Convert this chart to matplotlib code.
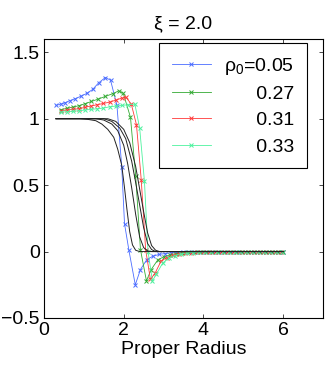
import matplotlib
matplotlib.use("Agg")
import matplotlib.pyplot as plt
from matplotlib.ticker import FuncFormatter

plt.rcParams['font.family'] = ['Liberation Sans', 'DejaVu Sans']
plt.rcParams['mathtext.fontset'] = 'custom'
plt.rcParams['mathtext.rm'] = 'Liberation Sans'
plt.rcParams['mathtext.it'] = 'Liberation Sans'

# coloured curves (with x markers), one per rho_0
rho_labels = ["$\\mathregular{ρ_0}$=0.05", "      0.27", "      0.31", "      0.33"]
rho_colors = ["#4a6cff", "#33aa33", "#ff3838", "#4cf29e"]

x_005 = [0.30, 0.42, 0.53, 0.64, 0.78, 0.93, 1.07, 1.22, 1.37, 1.54, 1.67, 1.83, 1.95,
         2.02, 2.13, 2.29, 2.42, 2.58, 2.73, 2.88, 3.03, 3.18, 3.33, 3.48, 3.63, 3.78,
         3.93, 4.08, 4.23, 4.38, 4.53, 4.68, 4.83, 4.98, 5.13, 5.28, 5.43, 5.58, 5.73,
         5.88, 6.00]
y_005 = [1.10, 1.11, 1.12, 1.135, 1.15, 1.17, 1.19, 1.22, 1.27, 1.31, 1.29, 1.10, 0.64,
         0.21, 0.01, -0.25, -0.135, -0.06, -0.035, -0.022, -0.015, -0.010, -0.007,
         -0.005, -0.003, -0.002, -0.001, 0, 0, 0, 0, 0, 0, 0, 0, 0, 0, 0, 0, 0, 0]

x_027 = [0.42, 0.57, 0.73, 0.88, 1.03, 1.19, 1.36, 1.54, 1.72, 1.88, 1.99, 2.17, 2.30,
         2.42, 2.57, 2.69, 2.86, 3.01, 3.16, 3.31, 3.46, 3.61, 3.76, 3.91, 4.06, 4.21,
         4.36, 4.51, 4.66, 4.81, 4.96, 5.11, 5.26, 5.41, 5.56, 5.71, 5.86, 6.00]
y_027 = [1.068, 1.078, 1.088, 1.098, 1.113, 1.13, 1.148, 1.168, 1.188, 1.21, 1.19, 1.01,
         0.57, 0.015, -0.22, -0.135, -0.06, -0.04, -0.025, -0.015, -0.010, -0.006,
         -0.004, -0.002, -0.001, 0, 0, 0, 0, 0, 0, 0, 0, 0, 0, 0, 0, 0]

x_031 = [0.42, 0.57, 0.72, 0.87, 1.02, 1.17, 1.33, 1.49, 1.65, 1.80, 1.95, 2.06, 2.19,
         2.32, 2.44, 2.55, 2.67, 2.79, 2.94, 3.09, 3.24, 3.39, 3.54, 3.69, 3.84, 3.99,
         4.14, 4.29, 4.44, 4.59, 4.74, 4.89, 5.04, 5.19, 5.34, 5.49, 5.64, 5.79, 5.94]
y_031 = [1.06, 1.065, 1.07, 1.075, 1.085, 1.095, 1.105, 1.115, 1.125, 1.14, 1.155, 1.16,
         1.11, 0.955, 0.54, 0.015, -0.21, -0.16, -0.07, -0.045, -0.028, -0.017, -0.011,
         -0.007, -0.004, -0.002, -0.001, 0, 0, 0, 0, 0, 0, 0, 0, 0, 0, 0, 0]

x_033 = [0.42, 0.57, 0.72, 0.87, 1.02, 1.17, 1.33, 1.49, 1.65, 1.80, 1.95, 2.10, 2.28,
         2.40, 2.52, 2.61, 2.72, 2.82, 2.98, 3.13, 3.28, 3.43, 3.58, 3.73, 3.88, 4.03,
         4.18, 4.33, 4.48, 4.63, 4.78, 4.93, 5.08, 5.23, 5.38, 5.53, 5.68, 5.83, 5.98]
y_033 = [1.05, 1.052, 1.055, 1.06, 1.065, 1.07, 1.075, 1.08, 1.09, 1.095, 1.10, 1.105,
         1.11, 0.93, 0.53, 0.0, -0.22, -0.17, -0.085, -0.05, -0.03, -0.018, -0.011,
         -0.007, -0.004, -0.002, -0.001, 0, 0, 0, 0, 0, 0, 0, 0, 0, 0, 0, 0]

# black step curves, one per rho_0
xb_005 = [0.30, 0.90, 1.10, 1.30, 1.45, 1.60, 1.75, 1.85, 1.95, 2.02, 2.08, 2.15, 2.22,
          2.30, 2.40, 6.00]
yb_005 = [1.0, 1.0, 0.995, 0.985, 0.96, 0.92, 0.86, 0.77, 0.65, 0.48, 0.32, 0.15, 0.05,
          0.01, 0.0, 0.0]
xb_027 = [0.30, 1.30, 1.50, 1.70, 1.85, 2.00, 2.10, 2.20, 2.30, 2.40, 2.50, 2.60, 2.70, 6.00]
yb_027 = [1.0, 1.0, 0.99, 0.96, 0.91, 0.80, 0.66, 0.48, 0.28, 0.11, 0.03, 0.005, 0.0, 0.0]
xb_031 = [0.30, 1.50, 1.70, 1.90, 2.05, 2.20, 2.30, 2.40, 2.50, 2.60, 2.70, 2.80, 6.00]
yb_031 = [1.0, 1.0, 0.98, 0.93, 0.85, 0.68, 0.52, 0.35, 0.18, 0.06, 0.015, 0.0, 0.0]
xb_033 = [0.30, 1.60, 1.80, 2.00, 2.15, 2.30, 2.40, 2.50, 2.60, 2.70, 2.80, 2.90, 6.00]
yb_033 = [1.0, 1.0, 0.98, 0.92, 0.82, 0.64, 0.47, 0.30, 0.14, 0.045, 0.01, 0.0, 0.0]

x_ticks = [0, 2, 4, 6]
y_ticks = [-0.5, 0, 0.5, 1, 1.5]


def fmt(v, pos):
    return f"{v:g}".replace("-", "\u2212")


fig = plt.figure(figsize=(3.27, 3.66), dpi=100)
ax = fig.add_axes([44 / 327, 48 / 366, 279 / 327, 279 / 366])

colored = [(x_005, y_005), (x_027, y_027), (x_031, y_031), (x_033, y_033)]
black = [(xb_005, yb_005), (xb_027, yb_027), (xb_031, yb_031), (xb_033, yb_033)]

for (xs, ys), c, lab in zip(colored, rho_colors, rho_labels):
    ax.plot(xs, ys, color=c, marker="x", markersize=3.5, markeredgewidth=0.7,
            linewidth=0.6, label=lab)
for xs, ys in black:
    ax.plot(xs, ys, color="#222222", linewidth=0.7)

ax.set_xlim(0, 7)
ax.set_ylim(-0.5, 1.6)
ax.set_xticks(x_ticks)
ax.set_yticks(y_ticks)
ax.xaxis.set_major_formatter(FuncFormatter(fmt))
ax.yaxis.set_major_formatter(FuncFormatter(fmt))
ax.tick_params(direction="in", top=True, right=True, length=3, width=0.5,
               labelsize=14, pad=3)
for s in ax.spines.values():
    s.set_linewidth(0.8)

ax.set_xlabel("Proper Radius", fontsize=14, labelpad=1)
ax.set_title("ξ = 2.0", fontsize=14, pad=8)

leg = ax.legend(loc="upper right", bbox_to_anchor=(0.943, 0.986), fontsize=14,
                frameon=True, fancybox=False, edgecolor="black", framealpha=1,
                handlelength=2.0, labelspacing=0.45, borderaxespad=0,
                handletextpad=0.7, borderpad=0.65)
leg.get_frame().set_linewidth(0.8)

fig.savefig("out.png", dpi=100)
